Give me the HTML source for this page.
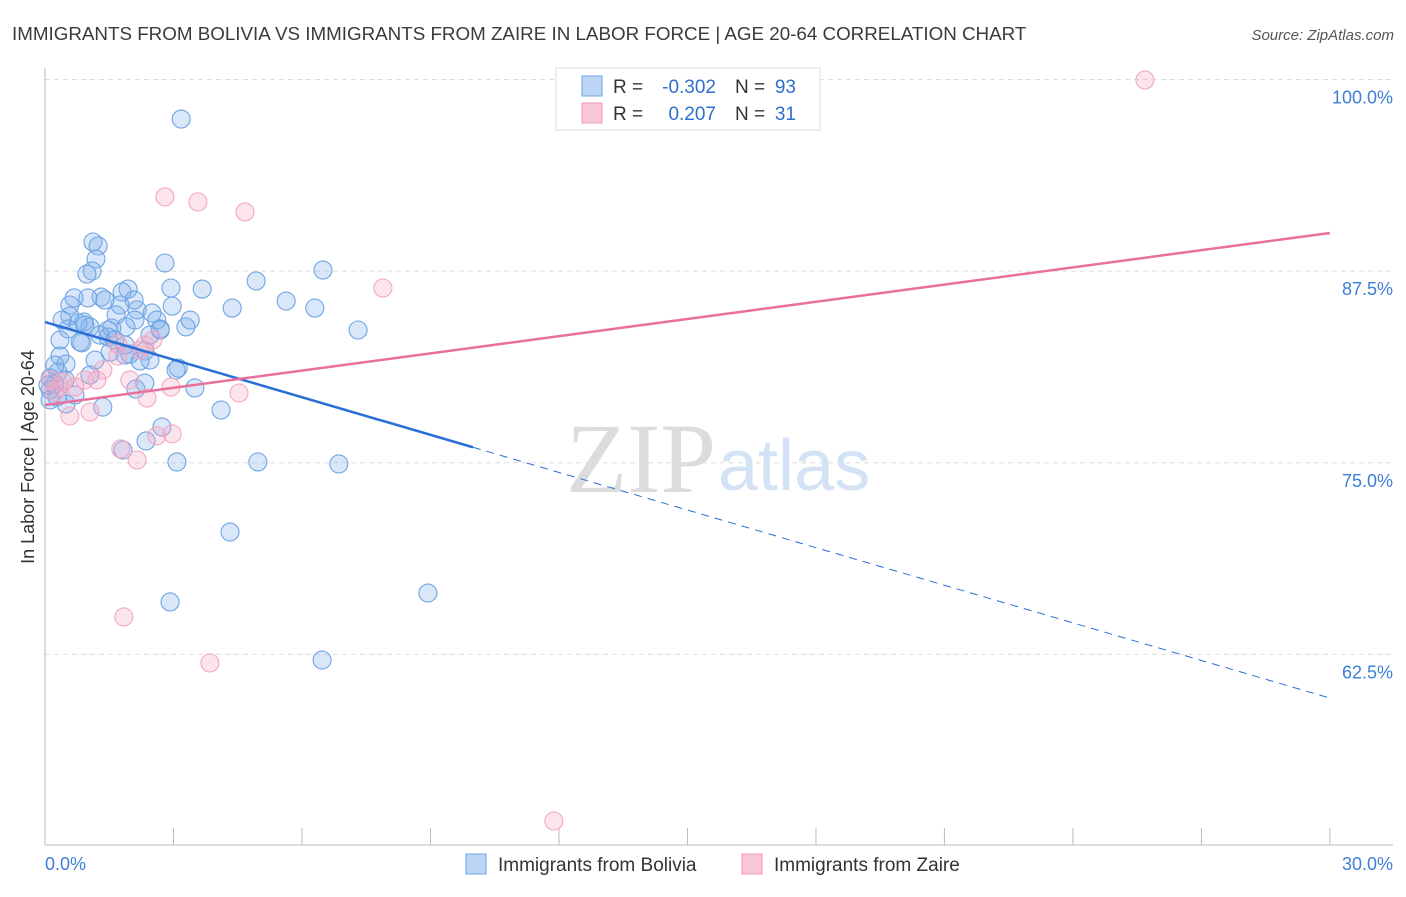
<!DOCTYPE html>
<html><head><meta charset="utf-8"><style>
body{margin:0;background:#fff;font-family:"Liberation Sans",sans-serif;}
</style></head><body>
<svg width="1406" height="892" xmlns="http://www.w3.org/2000/svg">
<text x="12" y="40" font-size="18.8" fill="#3a3a3a">IMMIGRANTS FROM BOLIVIA VS IMMIGRANTS FROM ZAIRE IN LABOR FORCE | AGE 20-64 CORRELATION CHART</text>
<text x="1394" y="40" font-size="15" fill="#555" font-style="italic" text-anchor="end">Source: ZipAtlas.com</text>
<g id="grid"></g>
<text x="716" y="492" font-size="100" font-family="Liberation Serif" fill="#dcdcdc" text-anchor="end">ZIP</text>
<text x="718" y="490" font-size="72" fill="#d3e3f5">atlas</text>
<g id="axes"></g>
<g id="pts"></g>
<g id="lines"></g>
<text transform="translate(34,457) rotate(-90)" font-size="18" fill="#333" text-anchor="middle">In Labor Force | Age 20-64</text>
<g>
<rect x="556" y="68" width="264" height="62" fill="#fff" stroke="#ddd"/>
<rect x="582" y="76" width="20" height="20" fill="#bcd5f5" stroke="#6fa3e3"/>
<rect x="582" y="103" width="20" height="20" fill="#f9c6d5" stroke="#f09ab4"/>
<text x="613" y="93" font-size="19" fill="#333">R =</text>
<text x="716" y="93" font-size="19" fill="#2d6fd0" text-anchor="end">-0.302</text>
<text x="735" y="93" font-size="19" fill="#333">N =</text>
<text x="796" y="93" font-size="19" fill="#2d6fd0" text-anchor="end">93</text>
<text x="613" y="120" font-size="19" fill="#333">R =</text>
<text x="716" y="120" font-size="19" fill="#2d6fd0" text-anchor="end">0.207</text>
<text x="735" y="120" font-size="19" fill="#333">N =</text>
<text x="796" y="120" font-size="19" fill="#2d6fd0" text-anchor="end">31</text>
</g>
<g>
<rect x="466" y="854" width="20" height="20" fill="#bcd5f5" stroke="#6fa3e3"/>
<text x="498" y="871" font-size="19" fill="#333">Immigrants from Bolivia</text>
<rect x="742" y="854" width="20" height="20" fill="#f9c6d5" stroke="#f09ab4"/>
<text x="774" y="871" font-size="19" fill="#333">Immigrants from Zaire</text>
</g>
</svg>
<script>
const yTicks=[100,87.5,75,62.5];
const yTickLabels=["100.0%","87.5%","75.0%","62.5%"];
const xTickLabels=["0.0%","30.0%"];
const blueX=[3.18,1.12,1.24,1.19,1.10,0.98,2.80,6.49,4.93,3.67,2.94,1.94,1.31,0.68,1.00,1.80,5.63,4.37,6.30,2.97,1.75,2.08,2.15,2.50,2.61,1.66,0.58,0.91,1.05,0.77,0.54,1.47,1.89,1.56,3.29,7.31,2.69,0.35,0.82,1.47,0.86,1.52,1.87,2.33,2.22,1.98,0.35,0.49,3.11,3.06,0.30,0.12,0.23,0.12,2.33,3.50,2.12,0.28,0.49,1.35,4.11,2.73,2.36,1.82,3.08,4.97,6.86,4.32,8.94,2.92,6.47,0.12,0.07,1.28,2.45,2.10,1.17,0.70,1.63,0.47,0.93,2.69,1.40,0.58,3.39,0.40,1.87,2.45,0.23,1.05];
const blueY=[97.42,89.4,89.14,88.29,87.51,87.31,88.03,87.57,86.86,86.33,86.40,86.33,85.81,85.75,85.75,86.14,85.55,85.09,85.09,85.22,85.29,85.62,84.97,84.77,84.31,84.64,84.57,84.18,83.86,84.12,83.73,83.66,83.86,83.79,83.86,83.66,83.73,83.01,82.88,83.20,82.82,82.22,82.03,82.29,81.64,82.09,81.96,81.44,81.18,81.05,80.92,80.53,80.14,79.75,80.20,79.88,79.81,79.29,78.83,78.63,78.44,77.33,76.42,75.83,75.05,75.05,74.92,70.48,66.50,65.92,62.13,79.10,80.07,83.33,83.33,84.31,81.70,79.42,83.01,80.40,83.99,83.66,85.62,85.29,84.31,84.31,82.68,81.70,81.37,80.72];
const pinkX=[25.68,2.80,3.57,4.67,7.89,2.52,2.22,1.70,1.35,0.93,1.21,0.42,0.35,0.70,1.98,2.94,4.53,2.38,1.05,0.58,2.97,2.61,1.77,2.15,1.84,3.85,11.88,0.12,0.23,1.70,2.33];
const pinkY=[99.97,92.34,92.01,91.36,86.40,83.01,82.35,81.96,81.05,80.40,80.40,80.27,79.94,79.94,80.40,79.94,79.55,79.22,78.31,78.05,76.88,76.75,75.90,75.18,64.94,61.94,51.63,80.40,79.62,82.75,82.68];
const blueTrend=[84.18,59.65];
const blueSolidEnd=9.99;
const pinkTrend=[78.77,89.99];
const NS="http://www.w3.org/2000/svg";
const X=v=>45+v*42.83, Y=v=>79.5+(100-v)*15.33;
function mk(t,a,p){const e=document.createElementNS(NS,t);for(const k in a)e.setAttribute(k,a[k]);p.appendChild(e);return e;}
const grid=document.getElementById('grid'),axes=document.getElementById('axes');
yTicks.forEach((t,i)=>{
 const l=mk('line',{x1:45,x2:1393,y1:Y(t),y2:Y(t),stroke:'#ddd','stroke-dasharray':'5,4'},grid);
 
 
 const tx=mk('text',{x:1393,y:Y(t)+24,'font-size':18,fill:'#3d7fd6','text-anchor':'end'},axes);
 tx.textContent=yTickLabels[i];
 
 
});
mk('line',{x1:45,x2:45,y1:68,y2:845,stroke:'#bbb'},axes);
mk('line',{x1:45,x2:1393,y1:845,y2:845,stroke:'#bbb'},axes);
for(let i=0;i<=10;i++){const l=mk('line',{x1:X(i*3),x2:X(i*3),y1:828,y2:845,stroke:'#bbb'},axes);
 
 }
[[0,'start'],[30,'end']].forEach((d,i)=>{const t=mk('text',{x:d[0]==0?45:1393,y:870,'font-size':18,fill:'#3d7fd6','text-anchor':d[1]},axes);t.textContent=xTickLabels[i];
 
 });
const pts=document.getElementById('pts');
blueX.forEach((x,i)=>{const c=mk('circle',{cx:X(x),cy:Y(blueY[i]),r:9,fill:'rgba(130,175,235,0.3)',stroke:'#6fa5e5','stroke-width':1.1},pts);
 
 });
pinkX.forEach((x,i)=>{const c=mk('circle',{cx:X(x),cy:Y(pinkY[i]),r:9,fill:'rgba(245,165,195,0.3)',stroke:'#f2a8c0','stroke-width':1.1},pts);
 
 });
const ln=document.getElementById('lines');
const by=x=>blueTrend[0]+(blueTrend[1]-blueTrend[0])*x/30;
let a=mk('line',{x1:X(0),y1:Y(by(0)),x2:X(blueSolidEnd),y2:Y(by(blueSolidEnd)),stroke:'#2a6fd6','stroke-width':2.5},ln);


a=mk('line',{x1:X(blueSolidEnd),y1:Y(by(blueSolidEnd)),x2:X(30),y2:Y(by(30)),stroke:'#2a6fd6','stroke-width':1,'stroke-dasharray':'8,6'},ln);


a=mk('line',{x1:X(0),y1:Y(pinkTrend[0]),x2:X(30),y2:Y(pinkTrend[1]),stroke:'#e8709a','stroke-width':2.5},ln);


</script>
</body></html>
